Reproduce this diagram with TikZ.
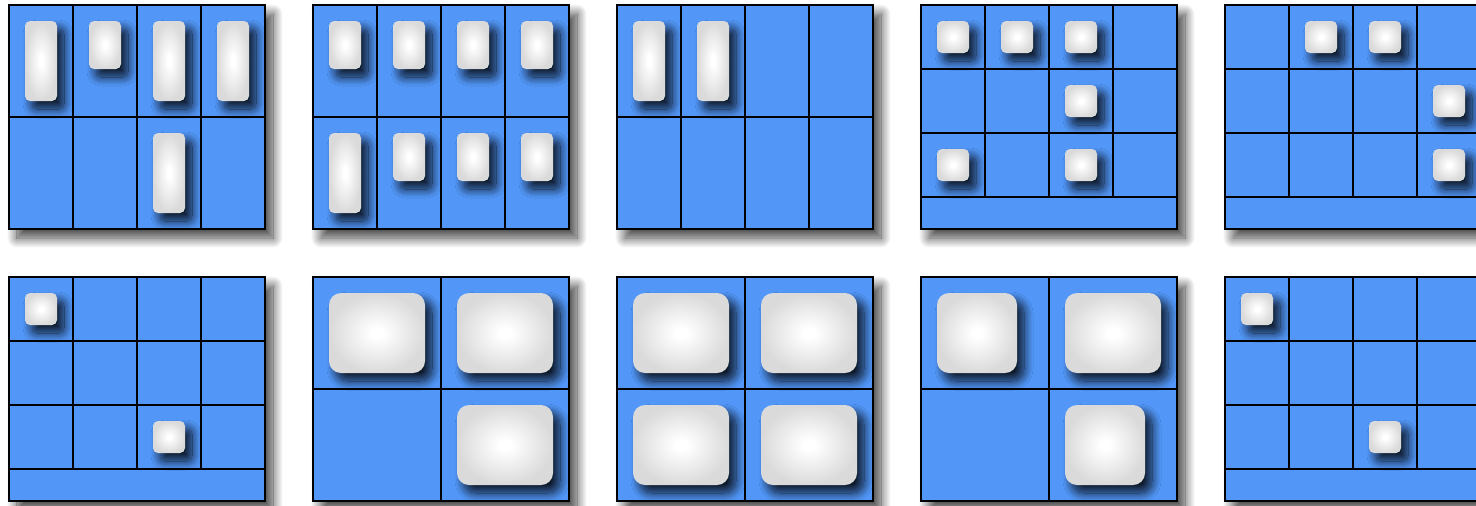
\documentclass[tikz,border=0pt]{standalone}
\usepackage{xcolor}
\usepackage{tikz}
\usetikzlibrary{shadows.blur}
\definecolor{cBlue}{HTML}{5297F8}
\definecolor{cTile}{HTML}{DADADA}
\pgfdeclareradialshading{tileglow}{\pgfpoint{0bp}{0bp}}{%
  color(0bp)=(white); color(3bp)=(white); color(25bp)=(cTile); color(50bp)=(cTile)}
\tikzset{
  panel/.style={fill=cBlue,draw=black,line width=1.1pt,
                blur shadow={shadow xshift=4pt,shadow yshift=-4.5pt,shadow blur steps=24,
                             shadow blur radius=5pt,shadow opacity=75}},
  gline/.style={draw=black,line width=1.1pt},
  tile/.style={rectangle,anchor=north west,inner sep=0pt,outer sep=0pt,
               rounded corners=2.5pt,shading=tileglow,
               blur shadow={shadow xshift=3.5pt,shadow yshift=-4pt,shadow blur steps=20,
                            shadow blur radius=4.5pt,shadow opacity=85}},
  bigtile/.style={rounded corners=6pt},
}
% #1 cols, #2 rows, #3 row height (panel is 256 x 224)
\newcommand{\panelgrid}[3]{%
  \pgfmathsetmacro\cw{256/#1}\def\ch{#3}%
  \pgfmathtruncatemacro\nc{#1-1}%
  \path[panel] (0,0) rectangle (256,224);
  \foreach \i in {1,...,\nc} \draw[gline] ({\i*\cw},0) -- ({\i*\cw},{#2*#3});
  \foreach \j in {1,...,#2} \draw[gline] (0,{\j*#3}) -- (256,{\j*#3});
}
% [style] name, col, row, width, height
\newcommand{\tile}[6][]{%
  \node[tile,#1,minimum width={#5*0.5pt},minimum height={#6*0.5pt}]
    (#2) at ({#3*\cw+16},{#4*\ch+16}) {};
}
\begin{document}
\begin{tikzpicture}[x=0.5pt,y=-0.5pt]
  \useasboundingbox (0,0) rectangle (1476,505);
  \clip (0,0) rectangle (1476,505);
  % first row
  \begin{scope}[shift={(9,5)}]
    \panelgrid{4}{2}{112}
    \tile{aA}{0}{0}{32}{80} \tile{aB}{1}{0}{32}{48}
    \tile{aC}{2}{0}{32}{80} \tile{aD}{3}{0}{32}{80}
    \tile{aE}{2}{1}{32}{80}
  \end{scope}
  \begin{scope}[shift={(313,5)}]
    \panelgrid{4}{2}{112}
    \tile{bA}{0}{0}{32}{48} \tile{bB}{1}{0}{32}{48}
    \tile{bC}{2}{0}{32}{48} \tile{bD}{3}{0}{32}{48}
    \tile{bE}{0}{1}{32}{80} \tile{bF}{1}{1}{32}{48}
    \tile{bG}{2}{1}{32}{48} \tile{bH}{3}{1}{32}{48}
  \end{scope}
  \begin{scope}[shift={(617,5)}]
    \panelgrid{4}{2}{112}
    \tile{cA}{0}{0}{32}{80} \tile{cB}{1}{0}{32}{80}
  \end{scope}
  \begin{scope}[shift={(921,5)}]
    \panelgrid{4}{3}{64}
    \tile{dA}{0}{0}{32}{32} \tile{dB}{1}{0}{32}{32}
    \tile{dC}{2}{0}{32}{32} \tile{dD}{2}{1}{32}{32}
    \tile{dE}{0}{2}{32}{32} \tile{dF}{2}{2}{32}{32}
  \end{scope}
  \begin{scope}[shift={(1225,5)}]
    \panelgrid{4}{3}{64}
    \tile{eA}{1}{0}{32}{32} \tile{eB}{2}{0}{32}{32}
    \tile{eC}{3}{1}{32}{32} \tile{eD}{3}{2}{32}{32}
  \end{scope}
  % second row
  \begin{scope}[shift={(9,277)}]
    \panelgrid{4}{3}{64}
    \tile{fA}{0}{0}{32}{32} \tile{fB}{2}{2}{32}{32}
  \end{scope}
  \begin{scope}[shift={(313,277)}]
    \panelgrid{2}{2}{112}
    \tile[bigtile]{gA}{0}{0}{96}{80} \tile[bigtile]{gB}{1}{0}{96}{80}
    \tile[bigtile]{gC}{1}{1}{96}{80}
  \end{scope}
  \begin{scope}[shift={(617,277)}]
    \panelgrid{2}{2}{112}
    \tile[bigtile]{hA}{0}{0}{96}{80} \tile[bigtile]{hB}{1}{0}{96}{80}
    \tile[bigtile]{hC}{0}{1}{96}{80} \tile[bigtile]{hD}{1}{1}{96}{80}
  \end{scope}
  \begin{scope}[shift={(921,277)}]
    \panelgrid{2}{2}{112}
    \tile[bigtile]{iA}{0}{0}{80}{80} \tile[bigtile]{iB}{1}{0}{96}{80}
    \tile[bigtile]{iC}{1}{1}{80}{80}
  \end{scope}
  \begin{scope}[shift={(1225,277)}]
    \panelgrid{4}{3}{64}
    \tile{jA}{0}{0}{32}{32} \tile{jB}{2}{2}{32}{32}
  \end{scope}
\end{tikzpicture}
\end{document}
